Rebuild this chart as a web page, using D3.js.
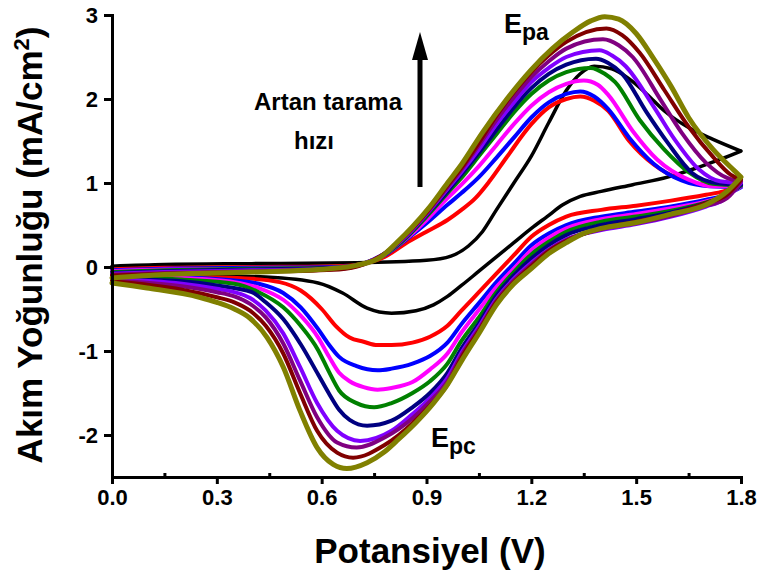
<!DOCTYPE html>
<html>
<head>
<meta charset="utf-8">
<script src="https://cdn.jsdelivr.net/npm/d3@7"></script>
<style>
  body { margin: 0; background: #fff; }
  text { font-family: Arial, "Liberation Sans", sans-serif; font-weight: bold; fill: #000; }
</style>
</head>
<body>
<div id="chart"></div>
<script>
// potential (V), current density (mA/cm2); forward scan 0 -> 1.8 then back to 0
var black = [[0,0.01],[0.15,0.03],[0.4,0.04],[0.7,0.05],[0.9,0.08],[0.97,0.13],[1.02,0.25],[1.06,0.42],[1.1,0.68],[1.15,1.0],[1.2,1.32],[1.25,1.72],[1.3,2.1],[1.34,2.3],[1.38,2.39],[1.43,2.36],[1.48,2.24],[1.53,2.06],[1.58,1.86],[1.65,1.66],[1.72,1.52],[1.8,1.38],
  [1.74,1.28],[1.68,1.19],[1.59,1.07],[1.49,0.98],[1.4,0.9],[1.34,0.84],[1.29,0.74],[1.245,0.6],[1.2,0.46],[1.15,0.29],[1.1,0.12],[1.05,-0.05],[1.0,-0.22],[0.96,-0.35],[0.92,-0.45],[0.87,-0.52],[0.8,-0.55],[0.73,-0.49],[0.66,-0.31],[0.59,-0.19],[0.44,-0.12],[0.25,-0.1],[0.06,-0.09],[0,-0.07]];

var red = [[0,-0.03],[0.15,-0.01],[0.4,0.0],[0.65,0.01],[0.72,0.04],[0.78,0.12],[0.84,0.28],[0.9,0.42],[0.96,0.56],[1.0,0.68],[1.04,0.82],[1.08,1.02],[1.13,1.31],[1.2,1.7],[1.25,1.9],[1.3,2.0],[1.34,2.03],[1.38,1.98],[1.42,1.86],[1.48,1.5],[1.55,1.22],[1.63,1.04],[1.71,0.98],[1.8,0.98],
  [1.75,0.9],[1.7,0.86],[1.6,0.79],[1.5,0.73],[1.4,0.68],[1.3,0.6],[1.25,0.5],[1.2,0.36],[1.15,0.14],[1.1,-0.08],[1.05,-0.3],[1.0,-0.52],[0.96,-0.7],[0.91,-0.83],[0.86,-0.9],[0.8,-0.93],[0.76,-0.93],[0.72,-0.89],[0.68,-0.84],[0.64,-0.7],[0.6,-0.5],[0.54,-0.28],[0.48,-0.18],[0.4,-0.14],[0.25,-0.12],[0.1,-0.1],[0,-0.09]];

var blue = [[0,-0.04],[0.15,-0.02],[0.4,-0.01],[0.65,0.0],[0.72,0.04],[0.78,0.14],[0.84,0.32],[0.9,0.52],[0.96,0.74],[1.0,0.88],[1.05,1.07],[1.1,1.3],[1.15,1.54],[1.2,1.78],[1.25,1.96],[1.3,2.06],[1.34,2.09],[1.38,2.03],[1.42,1.88],[1.48,1.54],[1.55,1.23],[1.63,1.03],[1.71,0.96],[1.8,0.95],
  [1.75,0.85],[1.7,0.8],[1.6,0.72],[1.5,0.66],[1.4,0.6],[1.3,0.5],[1.25,0.4],[1.2,0.26],[1.15,0.04],[1.1,-0.18],[1.05,-0.43],[1.0,-0.68],[0.96,-0.9],[0.91,-1.06],[0.86,-1.15],[0.8,-1.21],[0.76,-1.23],[0.7,-1.18],[0.65,-1.07],[0.62,-0.92],[0.59,-0.74],[0.54,-0.48],[0.49,-0.31],[0.42,-0.2],[0.35,-0.16],[0.2,-0.12],[0,-0.1]];

var magenta = [[0,-0.05],[0.15,-0.03],[0.4,-0.02],[0.65,-0.01],[0.72,0.04],[0.78,0.15],[0.84,0.33],[0.9,0.56],[0.96,0.82],[1.0,0.98],[1.05,1.2],[1.1,1.45],[1.15,1.7],[1.2,1.92],[1.25,2.08],[1.3,2.18],[1.35,2.22],[1.39,2.17],[1.42,2.05],[1.49,1.62],[1.56,1.28],[1.65,1.04],[1.72,0.96],[1.8,0.96],
  [1.75,0.84],[1.7,0.78],[1.6,0.7],[1.5,0.63],[1.4,0.57],[1.3,0.46],[1.25,0.35],[1.2,0.2],[1.15,-0.02],[1.1,-0.24],[1.05,-0.51],[1.0,-0.78],[0.96,-1.03],[0.91,-1.22],[0.86,-1.37],[0.8,-1.44],[0.76,-1.46],[0.72,-1.43],[0.68,-1.36],[0.65,-1.26],[0.62,-1.06],[0.59,-0.84],[0.54,-0.58],[0.49,-0.39],[0.42,-0.25],[0.35,-0.18],[0.2,-0.13],[0,-0.11]];

var green = [[0,-0.06],[0.15,-0.04],[0.4,-0.02],[0.65,-0.01],[0.72,0.04],[0.78,0.15],[0.84,0.34],[0.9,0.6],[0.96,0.88],[1.0,1.06],[1.05,1.32],[1.1,1.58],[1.15,1.84],[1.2,2.06],[1.25,2.22],[1.3,2.32],[1.37,2.37],[1.41,2.3],[1.44,2.2],[1.51,1.75],[1.58,1.4],[1.65,1.13],[1.72,0.99],[1.8,0.97],
  [1.75,0.84],[1.7,0.77],[1.6,0.67],[1.5,0.6],[1.4,0.54],[1.3,0.42],[1.25,0.3],[1.2,0.15],[1.15,-0.06],[1.1,-0.3],[1.05,-0.6],[1.0,-0.88],[0.96,-1.15],[0.91,-1.36],[0.86,-1.5],[0.8,-1.62],[0.75,-1.67],[0.7,-1.62],[0.65,-1.47],[0.62,-1.24],[0.59,-0.99],[0.54,-0.7],[0.49,-0.48],[0.42,-0.3],[0.35,-0.2],[0.2,-0.15],[0,-0.12]];

var navy = [[0,-0.07],[0.15,-0.05],[0.4,-0.03],[0.65,-0.01],[0.72,0.04],[0.78,0.16],[0.84,0.35],[0.9,0.62],[0.96,0.9],[1.0,1.1],[1.05,1.36],[1.1,1.63],[1.15,1.9],[1.2,2.13],[1.25,2.3],[1.3,2.41],[1.385,2.48],[1.42,2.43],[1.46,2.3],[1.53,1.84],[1.59,1.48],[1.66,1.12],[1.73,1.0],[1.8,0.98],
  [1.75,0.83],[1.7,0.76],[1.6,0.65],[1.5,0.57],[1.4,0.5],[1.3,0.38],[1.25,0.26],[1.2,0.1],[1.15,-0.1],[1.1,-0.34],[1.05,-0.67],[1.0,-0.97],[0.96,-1.26],[0.91,-1.5],[0.86,-1.67],[0.8,-1.83],[0.73,-1.89],[0.68,-1.82],[0.65,-1.7],[0.62,-1.5],[0.59,-1.28],[0.54,-0.92],[0.49,-0.62],[0.44,-0.42],[0.4,-0.3],[0.3,-0.22],[0.2,-0.17],[0,-0.14]];

var violet = [[0,-0.08],[0.15,-0.06],[0.4,-0.04],[0.65,-0.02],[0.72,0.04],[0.78,0.16],[0.84,0.36],[0.9,0.63],[0.96,0.93],[1.0,1.13],[1.05,1.4],[1.1,1.7],[1.15,1.96],[1.2,2.2],[1.25,2.37],[1.3,2.5],[1.395,2.58],[1.43,2.52],[1.47,2.39],[1.55,1.91],[1.61,1.52],[1.68,1.16],[1.74,1.02],[1.8,1.0],
  [1.75,0.8],[1.7,0.72],[1.6,0.6],[1.5,0.51],[1.4,0.44],[1.3,0.33],[1.25,0.21],[1.2,0.05],[1.15,-0.14],[1.1,-0.38],[1.05,-0.71],[1.0,-1.02],[0.96,-1.32],[0.91,-1.56],[0.86,-1.75],[0.8,-1.95],[0.71,-2.07],[0.644,-1.95],[0.587,-1.62],[0.538,-1.19],[0.49,-0.79],[0.44,-0.52],[0.395,-0.37],[0.35,-0.3],[0.3,-0.26],[0.2,-0.2],[0,-0.15]];

var purple = [[0,-0.09],[0.15,-0.07],[0.4,-0.05],[0.65,-0.02],[0.72,0.03],[0.78,0.16],[0.84,0.37],[0.9,0.64],[0.96,0.95],[1.0,1.16],[1.05,1.45],[1.1,1.75],[1.15,2.02],[1.2,2.26],[1.25,2.45],[1.3,2.6],[1.405,2.71],[1.45,2.64],[1.49,2.5],[1.57,1.99],[1.63,1.6],[1.7,1.24],[1.76,1.06],[1.8,1.02],
  [1.76,0.82],[1.7,0.73],[1.6,0.61],[1.5,0.52],[1.4,0.45],[1.3,0.32],[1.25,0.2],[1.2,0.03],[1.15,-0.16],[1.1,-0.4],[1.05,-0.74],[1.0,-1.05],[0.96,-1.36],[0.91,-1.6],[0.86,-1.8],[0.78,-2.03],[0.7,-2.15],[0.644,-2.09],[0.587,-1.79],[0.538,-1.35],[0.49,-0.91],[0.44,-0.6],[0.395,-0.44],[0.35,-0.35],[0.3,-0.3],[0.2,-0.23],[0,-0.16]];

var maroon = [[0,-0.1],[0.15,-0.08],[0.4,-0.06],[0.65,-0.03],[0.72,0.03],[0.78,0.16],[0.84,0.38],[0.9,0.65],[0.96,0.97],[1.0,1.18],[1.05,1.48],[1.1,1.8],[1.15,2.08],[1.2,2.32],[1.25,2.52],[1.3,2.68],[1.415,2.84],[1.46,2.76],[1.51,2.55],[1.58,2.11],[1.65,1.67],[1.72,1.31],[1.77,1.1],[1.8,1.04],
  [1.76,0.86],[1.7,0.76],[1.6,0.63],[1.5,0.54],[1.4,0.46],[1.3,0.31],[1.25,0.19],[1.2,0.01],[1.15,-0.18],[1.1,-0.42],[1.05,-0.76],[1.0,-1.08],[0.96,-1.4],[0.91,-1.65],[0.86,-1.86],[0.78,-2.12],[0.69,-2.27],[0.644,-2.21],[0.587,-1.95],[0.538,-1.5],[0.49,-1.03],[0.44,-0.7],[0.395,-0.52],[0.35,-0.42],[0.3,-0.36],[0.2,-0.27],[0,-0.17]];

var olive = [[0,-0.13],[0.15,-0.09],[0.4,-0.06],[0.62,-0.02],[0.7,0.02],[0.77,0.12],[0.815,0.29],[0.86,0.48],[0.91,0.72],[0.96,1.0],[1.0,1.22],[1.06,1.6],[1.13,2.0],[1.2,2.35],[1.26,2.6],[1.32,2.8],[1.37,2.93],[1.41,2.98],[1.45,2.95],[1.5,2.78],[1.55,2.48],[1.6,2.15],[1.65,1.78],[1.72,1.4],[1.78,1.15],[1.8,1.07],
  [1.76,0.9],[1.7,0.74],[1.6,0.63],[1.5,0.53],[1.4,0.46],[1.35,0.4],[1.3,0.29],[1.25,0.16],[1.2,-0.02],[1.15,-0.2],[1.1,-0.45],[1.05,-0.79],[1.0,-1.12],[0.96,-1.4],[0.92,-1.62],[0.87,-1.85],[0.82,-2.05],[0.78,-2.2],[0.73,-2.33],[0.672,-2.4],[0.633,-2.35],[0.587,-2.15],[0.538,-1.71],[0.49,-1.19],[0.444,-0.84],[0.395,-0.61],[0.35,-0.5],[0.3,-0.42],[0.25,-0.36],[0.1,-0.25],[0,-0.19]];

var xTicks = [0, 0.3, 0.6, 0.9, 1.2, 1.5, 1.8];
var xMinor = [0.15, 0.45, 0.75, 1.05, 1.35, 1.65];
var yTicks = [-2, -1, 0, 1, 2, 3];

var series = [
  {data: black,   color: "#000000", w: 3.5},
  {data: red,     color: "#ff0000", w: 4},
  {data: blue,    color: "#0000ff", w: 4},
  {data: magenta, color: "#ff00ff", w: 4},
  {data: green,   color: "#008000", w: 4},
  {data: navy,    color: "#000080", w: 4},
  {data: violet,  color: "#8000ff", w: 4},
  {data: purple,  color: "#800080", w: 4},
  {data: maroon,  color: "#800000", w: 4},
  {data: olive,   color: "#808000", w: 5}
];

var width = 763, height = 586;

var svg = d3.select("#chart").append("svg")
  .attr("width", width)
  .attr("height", height);

var x = d3.scaleLinear().domain([0, 1.8]).range([112, 741]);
var y = d3.scaleLinear().domain([-2.5, 3]).range([477, 15]);

var line = d3.line()
  .x(function(d) { return x(d[0]); })
  .y(function(d) { return y(d[1]); })
  .curve(d3.curveMonotoneX);

// each loop is drawn as its anodic (forward) and cathodic (reverse) branch
function branches(data) {
  var i = d3.maxIndex(data, function(d) { return d[0]; });
  var fwd = data.slice(0, i + 1);
  var rev = data.slice(i).sort(function(a, b) { return a[0] - b[0]; });
  return line(fwd) + line(rev);
}

svg.append("g")
  .selectAll("path")
  .data(series)
  .enter()
  .append("path")
  .attr("d", function(d) { return branches(d.data); })
  .attr("fill", "none")
  .attr("stroke", function(d) { return d.color; })
  .attr("stroke-width", function(d) { return d.w; })
  .attr("stroke-linejoin", "round")
  .attr("stroke-linecap", "round");

// axes
svg.append("g")
  .attr("transform", "translate(0,477)")
  .call(d3.axisBottom(x).tickValues(xTicks).tickFormat(function(d) { return d.toFixed(1); })
    .tickSize(7).tickSizeOuter(0).tickPadding(5));

svg.append("g")
  .attr("transform", "translate(0,477)")
  .call(d3.axisBottom(x).tickValues(xMinor).tickFormat("").tickSize(-4).tickSizeOuter(0))
  .call(function(g) { g.select(".domain").remove(); });

svg.append("g")
  .attr("transform", "translate(112,0)")
  .call(d3.axisLeft(y).tickValues(yTicks).tickFormat(function(d) { return String(d); })
    .tickSize(8).tickSizeOuter(0).tickPadding(6));

svg.selectAll(".domain, .tick line")
  .attr("stroke", "#000")
  .attr("stroke-width", 3);
svg.selectAll(".domain").attr("stroke-linecap", "square");
svg.selectAll(".tick text")
  .style("font-size", "22px")
  .style("font-weight", "bold")
  .attr("fill", "#000");

// axis titles
svg.append("text")
  .attr("x", 430)
  .attr("y", 563)
  .attr("text-anchor", "middle")
  .style("font-size", "35px")
  .text("Potansiyel (V)");

var yt = svg.append("text")
  .attr("transform", "translate(42,245) rotate(-90)")
  .attr("text-anchor", "middle")
  .style("font-size", "35px");
yt.append("tspan").text("Akım Yoğunluğu (mA/cm");
yt.append("tspan").attr("dy", -13).style("font-size", "22px").text("2");
yt.append("tspan").attr("dy", 13).text(")");

// annotations
svg.append("text")
  .attr("x", 328).attr("y", 110)
  .attr("text-anchor", "middle")
  .style("font-size", "24px")
  .text("Artan tarama");
svg.append("text")
  .attr("x", 314).attr("y", 149)
  .attr("text-anchor", "middle")
  .style("font-size", "24px")
  .text("hızı");

svg.append("line")
  .attr("x1", 420).attr("y1", 187)
  .attr("x2", 420).attr("y2", 56)
  .attr("stroke", "#000")
  .attr("stroke-width", 5);
svg.append("path")
  .attr("d", "M412,60 L420,32 L428,60 Z")
  .attr("fill", "#000");

var epa = svg.append("text").attr("x", 504).attr("y", 33).style("font-size", "27px");
epa.append("tspan").text("E");
epa.append("tspan").attr("dy", 7).style("font-size", "23px").text("pa");

var epc = svg.append("text").attr("x", 431).attr("y", 447).style("font-size", "27px");
epc.append("tspan").text("E");
epc.append("tspan").attr("dy", 7).style("font-size", "23px").text("pc");
</script>
</body>
</html>
